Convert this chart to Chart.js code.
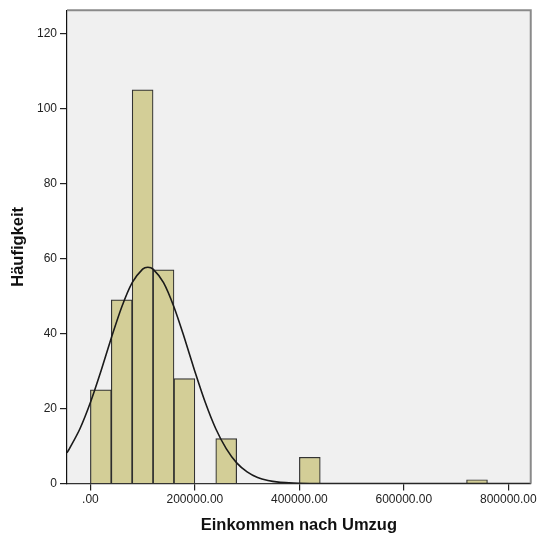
<!DOCTYPE html>
<html>
<head>
<meta charset="utf-8">
<script src="https://cdn.jsdelivr.net/npm/chart.js@4/dist/chart.umd.min.js"></script>
<style>
  body { margin: 0; background: #fff; }
</style>
</head>
<body>
<canvas id="myChart" width="539" height="535"></canvas>
<script>
// histogram bins (centre of each 40000 wide bin) and counts
var binCenters = [20000, 60000, 100000, 140000, 180000, 260000, 420000, 740000]
var counts = [25, 49, 105, 57, 28, 12, 7, 1]

// normal curve
var curveX = [-45000, -40000, -20000, 0, 20000, 40000, 60000, 80000, 100000, 110000, 120000, 140000, 160000, 180000, 200000, 220000, 240000, 260000, 280000, 300000, 320000, 340000, 360000, 380000, 400000, 420000, 440000, 500000, 843000]
var curveY = [8.2, 9.3, 14.6, 21.6, 29.9, 38.8, 47.1, 53.6, 57.2, 57.7, 57.2, 53.6, 47.1, 38.8, 29.9, 21.6, 14.6, 9.3, 5.5, 3.1, 1.6, 0.8, 0.36, 0.16, 0.06, 0.02, 0.01, 0, 0]

var xTicks = [0, 200000, 400000, 600000, 800000]
var yTicks = [0, 20, 40, 60, 80, 100, 120]

var bars = binCenters.map(function (x, i) { return { x: x, y: counts[i] } })
var curve = curveX.map(function (x, i) { return { x: x, y: curveY[i] } })

var plotBg = {
    id: 'plotBg',
    beforeDraw: function (chart) {
        var a = chart.chartArea, ctx = chart.ctx
        ctx.save()
        ctx.fillStyle = '#f0f0f0'
        ctx.fillRect(a.left, a.top, a.right - a.left, a.bottom - a.top)
        ctx.restore()
    },
    afterDraw: function (chart) {
        var a = chart.chartArea, ctx = chart.ctx
        ctx.save()
        ctx.strokeStyle = '#8a8a8a'
        ctx.lineWidth = 2
        ctx.beginPath()
        ctx.moveTo(a.left, a.top)
        ctx.lineTo(a.right, a.top)
        ctx.lineTo(a.right, a.bottom)
        ctx.stroke()
        ctx.restore()
    }
}

var tickFont = { family: 'Liberation Sans, Arial, sans-serif', size: 12 }
var titleFont = { family: 'Liberation Sans, Arial, sans-serif', size: 16.5, weight: 'bold' }

var myChart = new Chart(document.getElementById('myChart').getContext('2d'), {
    type: 'bar',
    data: {
        datasets: [
            {
                type: 'line',
                data: curve,
                borderColor: '#1a1a1a',
                borderWidth: 1.6,
                pointRadius: 0,
                tension: 0.3,
                fill: false,
                order: 1
            },
            {
                data: bars,
                backgroundColor: '#d3ce97',
                borderColor: 'rgba(30,30,30,0.9)',
                borderWidth: 1.2,
                barPercentage: 1,
                categoryPercentage: 1,
                order: 2
            }
        ]
    },
    options: {
        responsive: false,
        animation: false,
        layout: { padding: { top: 10, right: 6, left: 0, bottom: 0 } },
        plugins: { legend: { display: false }, tooltip: { enabled: false } },
        scales: {
            x: {
                type: 'linear',
                offset: false,
                min: -44762,
                max: 842857,
                afterFit: function (s) { s.height = 51.5 },
                afterBuildTicks: function (s) { s.ticks = xTicks.map(function (v) { return { value: v } }) },
                grid: { drawOnChartArea: false, drawTicks: true, tickLength: 7, color: '#222', lineWidth: 1.2, offset: false },
                border: { color: '#333', width: 1.2 },
                ticks: {
                    font: tickFont,
                    color: '#222',
                    padding: 2,
                    maxRotation: 0,
                    callback: function (v) { return v === 0 ? '.00' : v.toFixed(2) }
                },
                title: { display: true, text: 'Einkommen nach Umzug', font: titleFont, color: '#111', padding: 0 }
            },
            y: {
                min: 0,
                max: 126.27,
                afterFit: function (s) { s.width = 67 },
                afterBuildTicks: function (s) { s.ticks = yTicks.map(function (v) { return { value: v } }) },
                grid: { drawOnChartArea: false, drawTicks: true, tickLength: 7, color: '#222', lineWidth: 1.2 },
                border: { color: '#111', width: 1.2 },
                ticks: { font: tickFont, color: '#222', padding: 3 },
                title: { display: true, text: 'Häufigkeit', font: titleFont, color: '#111', padding: { top: 9 } }
            }
        }
    },
    plugins: [plotBg]
})
</script>
</body>
</html>
